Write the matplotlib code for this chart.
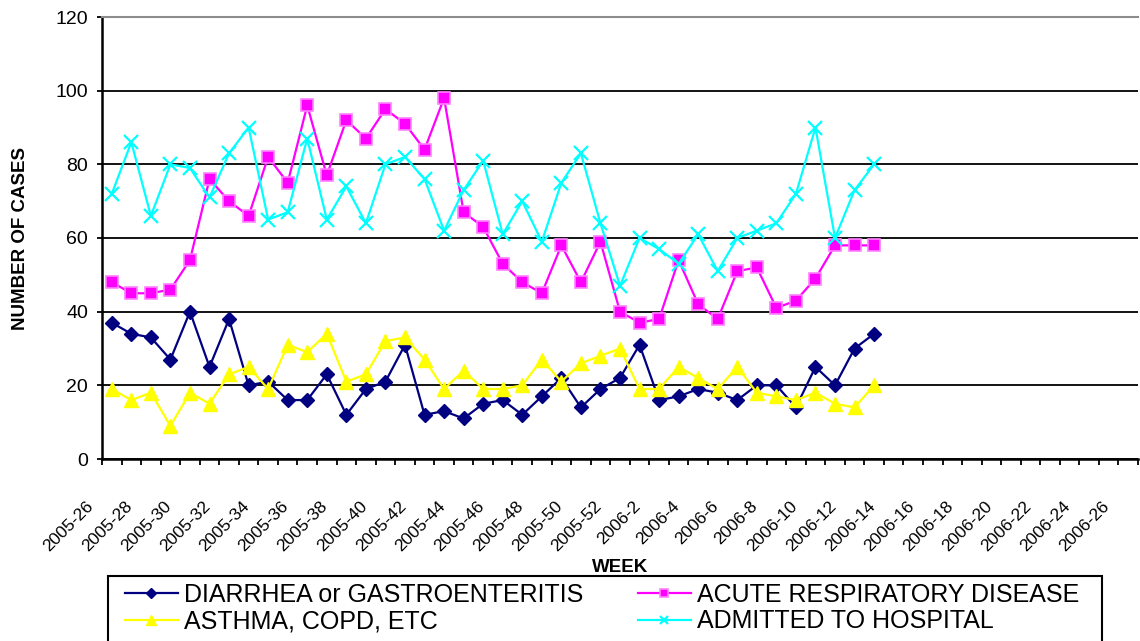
import matplotlib
matplotlib.use("Agg")
import matplotlib.pyplot as plt
from matplotlib.transforms import ScaledTranslation
from matplotlib.patches import Rectangle

plt.rcParams['font.family'] = ['Liberation Sans', 'DejaVu Sans']

# week categories 2005-26 .. 2006-26
weeks = ["2005-%d" % w for w in range(26, 53)] + ["2006-%d" % w for w in range(1, 27)]

diarrhea = [37, 34, 33, 27, 40, 25, 38, 20, 21, 16, 16, 23, 12, 19, 21, 31, 12, 13, 11, 15,
            16, 12, 17, 22, 14, 19, 22, 31, 16, 17, 19, 18, 16, 20, 20, 14, 25, 20, 30, 34]
respiratory = [48, 45, 45, 46, 54, 76, 70, 66, 82, 75, 96, 77, 92, 87, 95, 91, 84, 98, 67, 63,
               53, 48, 45, 58, 48, 59, 40, 37, 38, 54, 42, 38, 51, 52, 41, 43, 49, 58, 58, 58]
asthma = [19, 16, 18, 9, 18, 15, 23, 25, 19, 31, 29, 34, 21, 23, 32, 33, 27, 19, 24, 19,
          19, 20, 27, 21, 26, 28, 30, 19, 19, 25, 22, 19, 25, 18, 17, 16, 18, 15, 14, 20]
admitted = [72, 86, 66, 80, 79, 71, 83, 90, 65, 67, 87, 65, 74, 64, 80, 82, 76, 62, 73, 81,
            61, 70, 59, 75, 83, 64, 47, 60, 57, 53, 61, 51, 60, 62, 64, 72, 90, 60, 73, 80]

fig = plt.figure(figsize=(11.4, 6.41), dpi=100)
ax = fig.add_axes([102 / 1140, 1 - 459 / 641, 1036 / 1140, 442 / 641])

x = list(range(len(diarrhea)))
l1, = ax.plot(x, diarrhea, color='#000080', lw=1.6, marker='D', ms=7.5,
              mfc='#000080', mec='#000080', label='DIARRHEA or GASTROENTERITIS')
l2, = ax.plot(x, respiratory, color='#ff00ff', lw=1.6, marker='s', ms=8.5,
              mfc='#ff00ff', mec='#ff80ff', mew=1.2, label='ACUTE RESPIRATORY DISEASE')
l3, = ax.plot(x, asthma, color='#ffff00', lw=1.6, marker='^', ms=10.5,
              mfc='#ffff00', mec='#ffff00', label='ASTHMA, COPD, ETC')
l4, = ax.plot(x, admitted, color='#00ffff', lw=1.6, marker='x', ms=9.5, mew=1.6,
              label='ADMITTED TO HOSPITAL')

ax.set_xlim(-0.5, len(weeks) - 0.5)
ax.set_ylim(0, 120)
ax.set_yticks(range(0, 121, 20))
ax.yaxis.grid(True, color='black', lw=1.3)
ax.set_axisbelow(True)

ax.spines['right'].set_visible(False)
ax.spines['top'].set_color('#8c8c8c')
ax.spines['top'].set_linewidth(1.5)
ax.spines['left'].set_linewidth(1.8)
ax.spines['bottom'].set_linewidth(1.8)

ax.tick_params(axis='y', direction='out', length=3.6, width=1.3, pad=6.5,
               labelsize=14)
ax.set_xticks(range(0, len(weeks), 2))
ax.set_xticks([i - 0.5 for i in range(len(weeks) + 1)], minor=True)
ax.tick_params(axis='x', which='minor', direction='out', length=4.3, width=1.3)
ax.tick_params(axis='x', which='major', length=0, pad=32)
ax.set_xticklabels(weeks[::2], rotation=45, ha='right', va='center',
                   rotation_mode='anchor', fontsize=12.5)
off = ScaledTranslation(-21 / 100, 0, fig.dpi_scale_trans)
for lab in ax.get_xticklabels():
    lab.set_transform(lab.get_transform() + off)

ax.set_ylabel('NUMBER OF CASES', fontsize=13.5, fontweight='bold', va='center')
ax.yaxis.set_label_coords(-0.0785, 0.5)
ax.set_xlabel('WEEK', fontsize=13.5, fontweight='bold', va='center')
ax.xaxis.set_label_coords(0.5, -0.2466)

# row-wise order like the original: col 1 = diarrhea, asthma; col 2 = respiratory, admitted
ax.legend(handles=[l1, l3, l2, l4], ncol=2, loc='upper left',
          bbox_to_anchor=(125 / 1140, 1 - 583 / 641),
          bbox_transform=fig.transFigure, frameon=False, fontsize=18,
          borderpad=0, borderaxespad=0, handlelength=2.1, handletextpad=0.25,
          columnspacing=2.2, labelspacing=0.1, markerscale=0.65)

fig.patches.append(Rectangle((108 / 1140, -0.05), (1102 - 108) / 1140, 1 - 576 / 641 + 0.05,
                             transform=fig.transFigure, fill=False, edgecolor='black',
                             lw=1.5))

fig.savefig('out.png', dpi=100)
